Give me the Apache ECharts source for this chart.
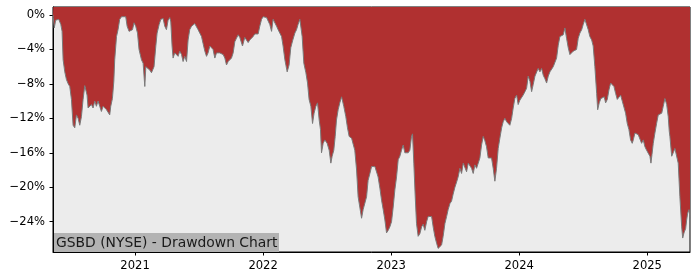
<!DOCTYPE html>
<html>
<head>
<meta charset="utf-8">
<script src="https://cdn.jsdelivr.net/npm/echarts@6/dist/echarts.min.js"></script>
<style>html,body{margin:0;padding:0;background:#fff}#c{width:700px;height:280px}</style>
</head>
<body>
<div id="c"></div>
<script>
// time as decimal years
const years = [2020.359,2020.361,2020.369,2020.380,2020.392,2020.404,2020.420,2020.430,2020.438,2020.451,2020.464,2020.478,2020.490,2020.503,2020.516,2020.529,2020.542,2020.555,2020.568,2020.581,2020.594,2020.607,2020.615,2020.625,2020.633,2020.646,2020.659,2020.672,2020.685,2020.698,2020.711,2020.724,2020.737,2020.750,2020.763,2020.777,2020.789,2020.802,2020.810,2020.823,2020.834,2020.841,2020.855,2020.867,2020.880,2020.894,2020.906,2020.927,2020.938,2020.953,2020.966,2020.980,2020.992,2021.005,2021.019,2021.031,2021.050,2021.063,2021.076,2021.084,2021.097,2021.115,2021.128,2021.141,2021.148,2021.162,2021.172,2021.188,2021.201,2021.211,2021.219,2021.232,2021.245,2021.258,2021.271,2021.279,2021.289,2021.297,2021.310,2021.323,2021.336,2021.349,2021.363,2021.375,2021.388,2021.402,2021.414,2021.427,2021.441,2021.453,2021.466,2021.480,2021.492,2021.505,2021.519,2021.531,2021.545,2021.558,2021.570,2021.584,2021.597,2021.609,2021.623,2021.636,2021.648,2021.662,2021.675,2021.688,2021.701,2021.714,2021.727,2021.740,2021.753,2021.766,2021.779,2021.792,2021.805,2021.818,2021.831,2021.839,2021.857,2021.870,2021.883,2021.896,2021.909,2021.922,2021.935,2021.948,2021.961,2021.974,2021.988,2022.000,2022.013,2022.027,2022.039,2022.052,2022.066,2022.078,2022.091,2022.105,2022.117,2022.130,2022.144,2022.156,2022.170,2022.188,2022.203,2022.216,2022.230,2022.248,2022.261,2022.273,2022.287,2022.295,2022.305,2022.318,2022.334,2022.347,2022.359,2022.373,2022.386,2022.398,2022.412,2022.425,2022.438,2022.448,2022.456,2022.469,2022.482,2022.500,2022.516,2022.529,2022.539,2022.552,2022.563,2022.573,2022.586,2022.599,2022.613,2022.620,2022.630,2022.646,2022.659,2022.672,2022.691,2022.703,2022.716,2022.730,2022.742,2022.755,2022.769,2022.781,2022.795,2022.808,2022.820,2022.834,2022.847,2022.859,2022.873,2022.886,2022.898,2022.912,2022.925,2022.938,2022.951,2022.964,2022.977,2022.990,2023.003,2023.016,2023.029,2023.042,2023.055,2023.068,2023.081,2023.094,2023.107,2023.120,2023.133,2023.146,2023.159,2023.167,2023.177,2023.188,2023.198,2023.211,2023.224,2023.238,2023.250,2023.263,2023.277,2023.289,2023.302,2023.316,2023.328,2023.341,2023.355,2023.367,2023.380,2023.394,2023.406,2023.420,2023.433,2023.445,2023.459,2023.472,2023.484,2023.498,2023.511,2023.523,2023.537,2023.550,2023.563,2023.576,2023.589,2023.602,2023.615,2023.628,2023.641,2023.654,2023.667,2023.680,2023.693,2023.706,2023.719,2023.732,2023.745,2023.758,2023.771,2023.784,2023.797,2023.810,2023.823,2023.836,2023.849,2023.863,2023.875,2023.888,2023.902,2023.914,2023.927,2023.941,2023.953,2023.966,2023.980,2023.992,2024.005,2024.019,2024.031,2024.045,2024.058,2024.070,2024.084,2024.097,2024.109,2024.123,2024.136,2024.148,2024.162,2024.175,2024.188,2024.201,2024.214,2024.227,2024.240,2024.253,2024.266,2024.279,2024.292,2024.305,2024.318,2024.331,2024.344,2024.357,2024.370,2024.383,2024.396,2024.409,2024.422,2024.435,2024.448,2024.461,2024.474,2024.488,2024.500,2024.513,2024.527,2024.539,2024.552,2024.566,2024.578,2024.591,2024.605,2024.613,2024.625,2024.638,2024.652,2024.664,2024.675,2024.688,2024.701,2024.714,2024.727,2024.740,2024.753,2024.766,2024.779,2024.792,2024.805,2024.818,2024.831,2024.844,2024.857,2024.870,2024.883,2024.891,2024.904,2024.917,2024.930,2024.943,2024.956,2024.969,2024.982,2024.995,2025.008,2025.021,2025.029,2025.037,2025.047,2025.060,2025.073,2025.086,2025.099,2025.113,2025.125,2025.138,2025.152,2025.164,2025.172,2025.177,2025.191,2025.203,2025.216,2025.230,2025.242,2025.255,2025.269,2025.277,2025.287,2025.300,2025.308,2025.316,2025.326,2025.334];
const drawdown = [0.0,-0.3,-1.5,-0.6,-0.4,-0.5,-1.1,-1.9,-5.2,-6.6,-7.5,-8.0,-8.3,-9.8,-12.8,-13.1,-11.6,-12.0,-12.8,-11.8,-9.8,-8.2,-8.3,-9.3,-10.8,-10.6,-10.4,-10.8,-10.0,-10.6,-10.0,-10.6,-11.2,-10.6,-10.8,-11.0,-11.2,-11.6,-10.6,-9.7,-7.7,-5.2,-2.5,-1.7,-0.5,-0.2,0.0,-0.2,-1.3,-1.9,-2.1,-1.7,-0.9,-1.3,-2.1,-4.0,-5.2,-5.6,-8.3,-6.0,-5.8,-6.4,-6.7,-6.9,-6.0,-3.6,-2.1,-1.1,-0.5,-0.7,-0.4,-1.3,-1.7,-0.6,-0.3,-0.8,-3.6,-5.0,-4.4,-4.2,-4.8,-4.2,-4.6,-5.4,-4.8,-5.4,-2.9,-1.7,-1.3,-1.1,-1.0,-1.1,-1.7,-1.9,-2.5,-3.3,-4.2,-4.8,-4.4,-3.6,-3.4,-4.0,-5.0,-4.4,-4.2,-4.4,-4.4,-4.6,-5.0,-5.8,-5.4,-5.2,-5.0,-4.4,-3.1,-2.7,-2.3,-2.6,-2.8,-3.6,-2.6,-2.7,-3.2,-2.9,-3.0,-2.5,-2.2,-2.3,-2.2,-1.3,-0.5,-0.2,-0.4,-0.3,-0.5,-1.1,-1.9,-0.5,-0.7,-1.3,-1.7,-1.9,-2.5,-3.6,-5.2,-6.6,-5.8,-3.8,-3.0,-2.1,-1.7,-1.1,-0.5,-0.35,-2.5,-5.6,-6.7,-7.9,-9.8,-10.6,-12.6,-11.4,-10.6,-10.2,-12.2,-13.3,-16.0,-14.9,-14.5,-14.9,-15.7,-17.2,-16.4,-15.7,-14.1,-12.2,-11.0,-10.2,-9.5,-9.6,-10.6,-11.8,-13.1,-14.1,-14.3,-14.5,-15.7,-18.0,-21.1,-22.3,-23.6,-22.6,-22.6,-21.1,-19.2,-18.4,-17.6,-17.4,-17.6,-17.8,-18.8,-20.1,-21.5,-22.6,-23.8,-25.3,-25.0,-24.6,-24.0,-22.3,-20.3,-18.8,-16.8,-16.4,-15.7,-15.1,-16.0,-16.2,-16.0,-15.7,-14.1,-13.8,-17.2,-21.1,-24.2,-25.7,-25.4,-24.6,-24.3,-25.0,-24.0,-23.4,-23.6,-23.4,-24.6,-25.7,-26.5,-27.1,-26.9,-26.7,-25.7,-24.2,-23.4,-22.6,-21.9,-21.6,-20.8,-20.0,-19.4,-18.8,-17.8,-18.4,-17.2,-17.3,-18.2,-17.2,-17.0,-17.8,-18.4,-17.4,-17.8,-17.2,-16.6,-15.1,-14.1,-14.6,-15.3,-16.6,-16.4,-16.6,-17.8,-19.3,-17.8,-15.5,-14.3,-13.1,-12.4,-12.0,-12.4,-12.4,-12.8,-12.0,-10.8,-9.7,-9.3,-10.4,-9.9,-9.7,-9.3,-8.9,-8.5,-7.1,-7.7,-8.9,-8.1,-7.1,-6.9,-6.2,-6.6,-6.2,-7.0,-7.4,-7.9,-7.1,-6.6,-6.4,-6.0,-6.2,-5.0,-3.5,-2.5,-2.3,-2.3,-1.5,-2.7,-3.8,-4.6,-4.4,-4.2,-4.2,-4.0,-2.7,-2.1,-1.7,-1.1,-0.5,-0.5,-1.7,-2.5,-2.9,-3.6,-6.0,-9.1,-11.0,-10.2,-9.7,-9.5,-9.5,-10.2,-9.8,-8.7,-7.9,-7.7,-8.3,-9.1,-9.8,-9.7,-9.3,-10.0,-10.2,-11.4,-12.6,-13.3,-14.5,-14.9,-14.5,-13.7,-13.5,-13.9,-13.7,-14.9,-14.5,-15.3,-15.7,-15.5,-16.4,-17.2,-16.2,-14.9,-13.7,-12.6,-11.6,-11.8,-11.4,-10.6,-9.7,-10.4,-11.8,-13.5,-14.1,-16.4,-16.0,-15.5,-15.7,-17.2,-21.1,-24.6,-25.9,-25.3,-24.8,-23.8,-23.0,-22.6,-23.6];
const xTicks = [2021, 2022, 2023, 2024, 2025];
const yTicks = [0, -4, -8, -12, -16, -20, -24];
const titleText = 'GSBD (NYSE) - Drawdown Chart';

const chart = echarts.init(document.getElementById('c'), null, {renderer: 'canvas'});
const fontFamily = '"DejaVu Sans", sans-serif';
const data = years.map((y, i) => [y, drawdown[i]]);
chart.setOption({
  animation: false,
  grid: {left: 53, right: 10, top: 7, bottom: 28, show: true, backgroundColor: '#ececec', borderColor: '#000', borderWidth: 1},
  xAxis: {
    type: 'value', min: 2020.359, max: 2025.334,
    splitLine: {show: false},
    axisLine: {show: true, onZero: false, lineStyle: {color: '#000', width: 1}},
    axisTick: {show: true, length: 3.5, lineStyle: {color: '#000'}, customValues: xTicks},
    axisLabel: {customValues: xTicks, color: '#000', fontSize: 11.57, fontFamily, margin: 8, formatter: v => String(Math.round(v))}
  },
  yAxis: {
    type: 'value', min: -27.52, max: 0.93,
    splitLine: {show: false},
    axisLine: {show: true, onZero: false, lineStyle: {color: '#000', width: 1}},
    axisTick: {show: true, length: 3.5, lineStyle: {color: '#000'}, customValues: yTicks},
    axisLabel: {customValues: yTicks, color: '#000', fontSize: 11.57, fontFamily, margin: 8,
      formatter: v => (v < 0 ? '\u2212' + Math.abs(v) : String(v)) + '%'}
  },
  series: [{
    type: 'line', data, symbol: 'none', smooth: false,
    lineStyle: {color: '#7a7a7a', width: 1},
    areaStyle: {color: '#b03030', opacity: 1, origin: 'end'},
    z: 2
  }],
  graphic: [{
    type: 'group', left: 53, top: 233, z: 100,
    children: [
      {type: 'rect', shape: {x: 0, y: 0, width: 226, height: 19}, style: {fill: '#b3b3b3'}},
      {type: 'text', x: 3, y: 10, style: {text: titleText, fill: '#1a1a1a', font: '13.89px "DejaVu Sans", sans-serif', verticalAlign: 'middle'}}
    ]
  }]
});
</script>
</body>
</html>
